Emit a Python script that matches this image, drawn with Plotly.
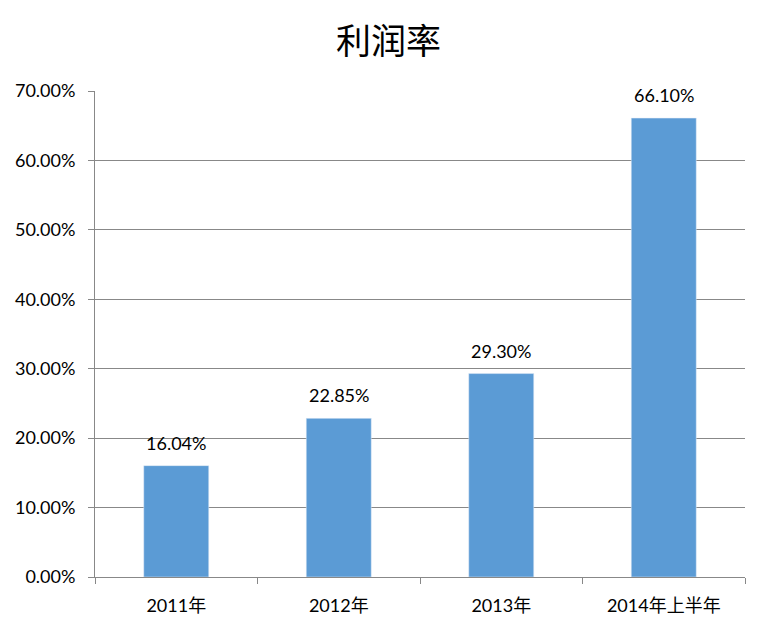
import plotly.graph_objects as go

categories = ["2011年", "2012年", "2013年", "2014年上半年"]
values = [0.1604, 0.2285, 0.2930, 0.6610]
title_text = "利润率"

bar_color = "#5B9BD5"
grid_color = "#888888"
font_family = "Lato, 'Noto Sans CJK SC', sans-serif"

fig = go.Figure()
fig.add_trace(go.Bar(
    x=categories, y=values, marker_color=bar_color, width=0.4,
    hoverinfo="skip",
))

for c, v in zip(categories, values):
    fig.add_annotation(
        x=c, y=v, text=f"{v*100:.2f}%", showarrow=False,
        yanchor="bottom", yshift=10,
        font=dict(family=font_family, size=18, color="#000000"),
    )

fig.update_layout(
    width=761, height=624,
    margin=dict(l=87, r=24, t=83, b=55),
    paper_bgcolor="white", plot_bgcolor="white",
    title=dict(text=title_text, x=0.5, xanchor="center", y=1 - 34 / 624, yanchor="middle",
               font=dict(family="'Noto Sans CJK SC', sans-serif", size=35, color="#000000")),
    showlegend=False,
    bargap=0.6,
)
fig.update_xaxes(
    type="category", showgrid=False, showline=True, linecolor=grid_color, linewidth=1,
    ticks="outside", tickson="boundaries", ticklen=6, tickcolor=grid_color,
    ticklabelstandoff=12, automargin=False,
    tickfont=dict(family=font_family, size=18, color="#000000"),
)
fig.update_yaxes(
    range=[0, 0.7], dtick=0.1, tickformat=".2%",
    showgrid=True, gridcolor=grid_color, gridwidth=1,
    showline=True, linecolor=grid_color, linewidth=1,
    ticks="outside", ticklen=6, tickcolor=grid_color,
    ticklabelstandoff=9, automargin=False,
    tickfont=dict(family=font_family, size=18, color="#000000"),
    zeroline=False,
)

fig.write_html("out.html")
